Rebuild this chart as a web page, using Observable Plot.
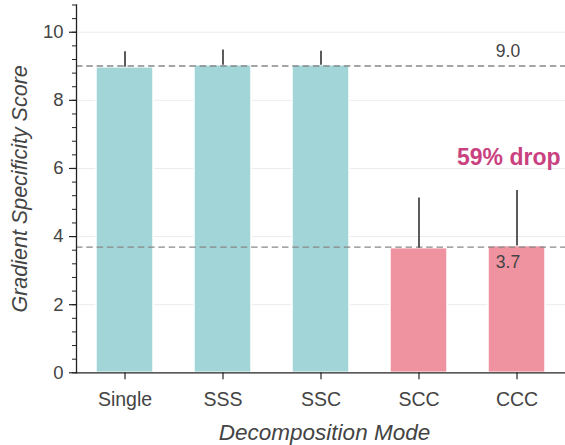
<!DOCTYPE html>
<html><head><meta charset="utf-8">
<script src="https://cdn.jsdelivr.net/npm/d3@7"></script>
<script src="https://cdn.jsdelivr.net/npm/@observablehq/plot@0.6"></script>
<style>html,body{margin:0;padding:0;background:#fff}</style>
</head><body><div id="chart"></div>
<script>
const modes = ["Single", "SSS", "SSC", "SCC", "CCC"];
const scores = [8.97, 9.03, 9.03, 3.66, 3.72];
const errors = [0.46, 0.45, 0.41, 1.47, 1.63];
const groups = ["self", "self", "self", "cross", "cross"];
const yTicks = [0, 2, 4, 6, 8, 10];
const minorTicks = d3.range(0, 28).map(i => +(i * 0.4).toFixed(1));
const groupMeans = [9.01, 3.69];
const meanLabels = ["9.0", "3.7"];
const dropLabel = "59% drop";

const data = modes.map((m, i) => ({mode: m, score: scores[i], err: errors[i], group: groups[i]}));
const font = "'Liberation Sans', Arial, Helvetica, sans-serif";

const chart = Plot.plot({
  width: 565,
  height: 445,
  marginLeft: 76,
  marginRight: 0,
  marginTop: 4.5,
  marginBottom: 72.7,
  style: {fontFamily: font, background: "#fff", color: "#222"},
  x: {type: "band", domain: modes, range: [75.2, 566.4], paddingInner: 0.42, paddingOuter: 0.21, axis: null},
  y: {domain: [0, 10.8], axis: null},
  color: {domain: ["self", "cross"], range: ["#a1d5d8", "#f093a1"]},
  marks: [
    Plot.gridY(yTicks.filter(d => d > 0), {stroke: "#ececec", strokeOpacity: 1, strokeWidth: 1}),
    Plot.barY(data, {x: "mode", y: "score", fill: "group", stroke: "white", strokeWidth: 1.5}),
    Plot.ruleY(groupMeans, {stroke: "#888", strokeWidth: 1.4, strokeDasharray: "6.5,3.8"}),
    Plot.ruleX(data, {x: "mode", y1: "score", y2: d => d.score + d.err, stroke: "#4a4a4a", strokeWidth: 1.8}),
    Plot.text([0], {x: () => "CCC", y: () => groupMeans[0], text: () => meanLabels[0], dx: -9, dy: -8.6, lineAnchor: "bottom", fontSize: 17.5, fill: "#444"}),
    Plot.text([0], {x: () => "CCC", y: () => groupMeans[1], text: () => meanLabels[1], dx: -9, dy: 8, lineAnchor: "top", fontSize: 17.5, fill: "#444"}),
    Plot.text([0], {x: () => "CCC", y: () => 6.1, text: () => dropLabel, dx: 43.5, textAnchor: "end", lineAnchor: "bottom", fontSize: 23, fontWeight: "bold", fill: "#c9427f"}),
    Plot.axisY(minorTicks, {tickSize: 4, tickFormat: () => "", stroke: "#222", strokeWidth: 1, label: null}),
    Plot.axisY(yTicks, {tickSize: 7, tickPadding: 6, fontSize: 18.5, stroke: "#222", fill: "#444", strokeWidth: 1.2, label: null}),
    Plot.axisX({tickSize: 7, tickPadding: 12, fontSize: 19.5, stroke: "#222", fill: "#444", strokeWidth: 1.2, label: null}),
    Plot.frame({anchor: "left", stroke: "#222", strokeWidth: 1.3}),
    Plot.ruleY([0], {stroke: "#222", strokeWidth: 1.3}),
    Plot.text(["Gradient Specificity Score"], {frameAnchor: "left", textAnchor: "middle", dx: -50, rotate: -90, lineAnchor: "bottom", fontSize: 21.5, fontStyle: "italic", fill: "#444"}),
    Plot.text(["Decomposition Mode"], {frameAnchor: "bottom", textAnchor: "middle", dx: 3.5, dy: 66.7, lineAnchor: "bottom", fontSize: 22.5, fontStyle: "italic", fill: "#444"})
  ]
});
document.getElementById("chart").appendChild(chart);
</script>
</body></html>
